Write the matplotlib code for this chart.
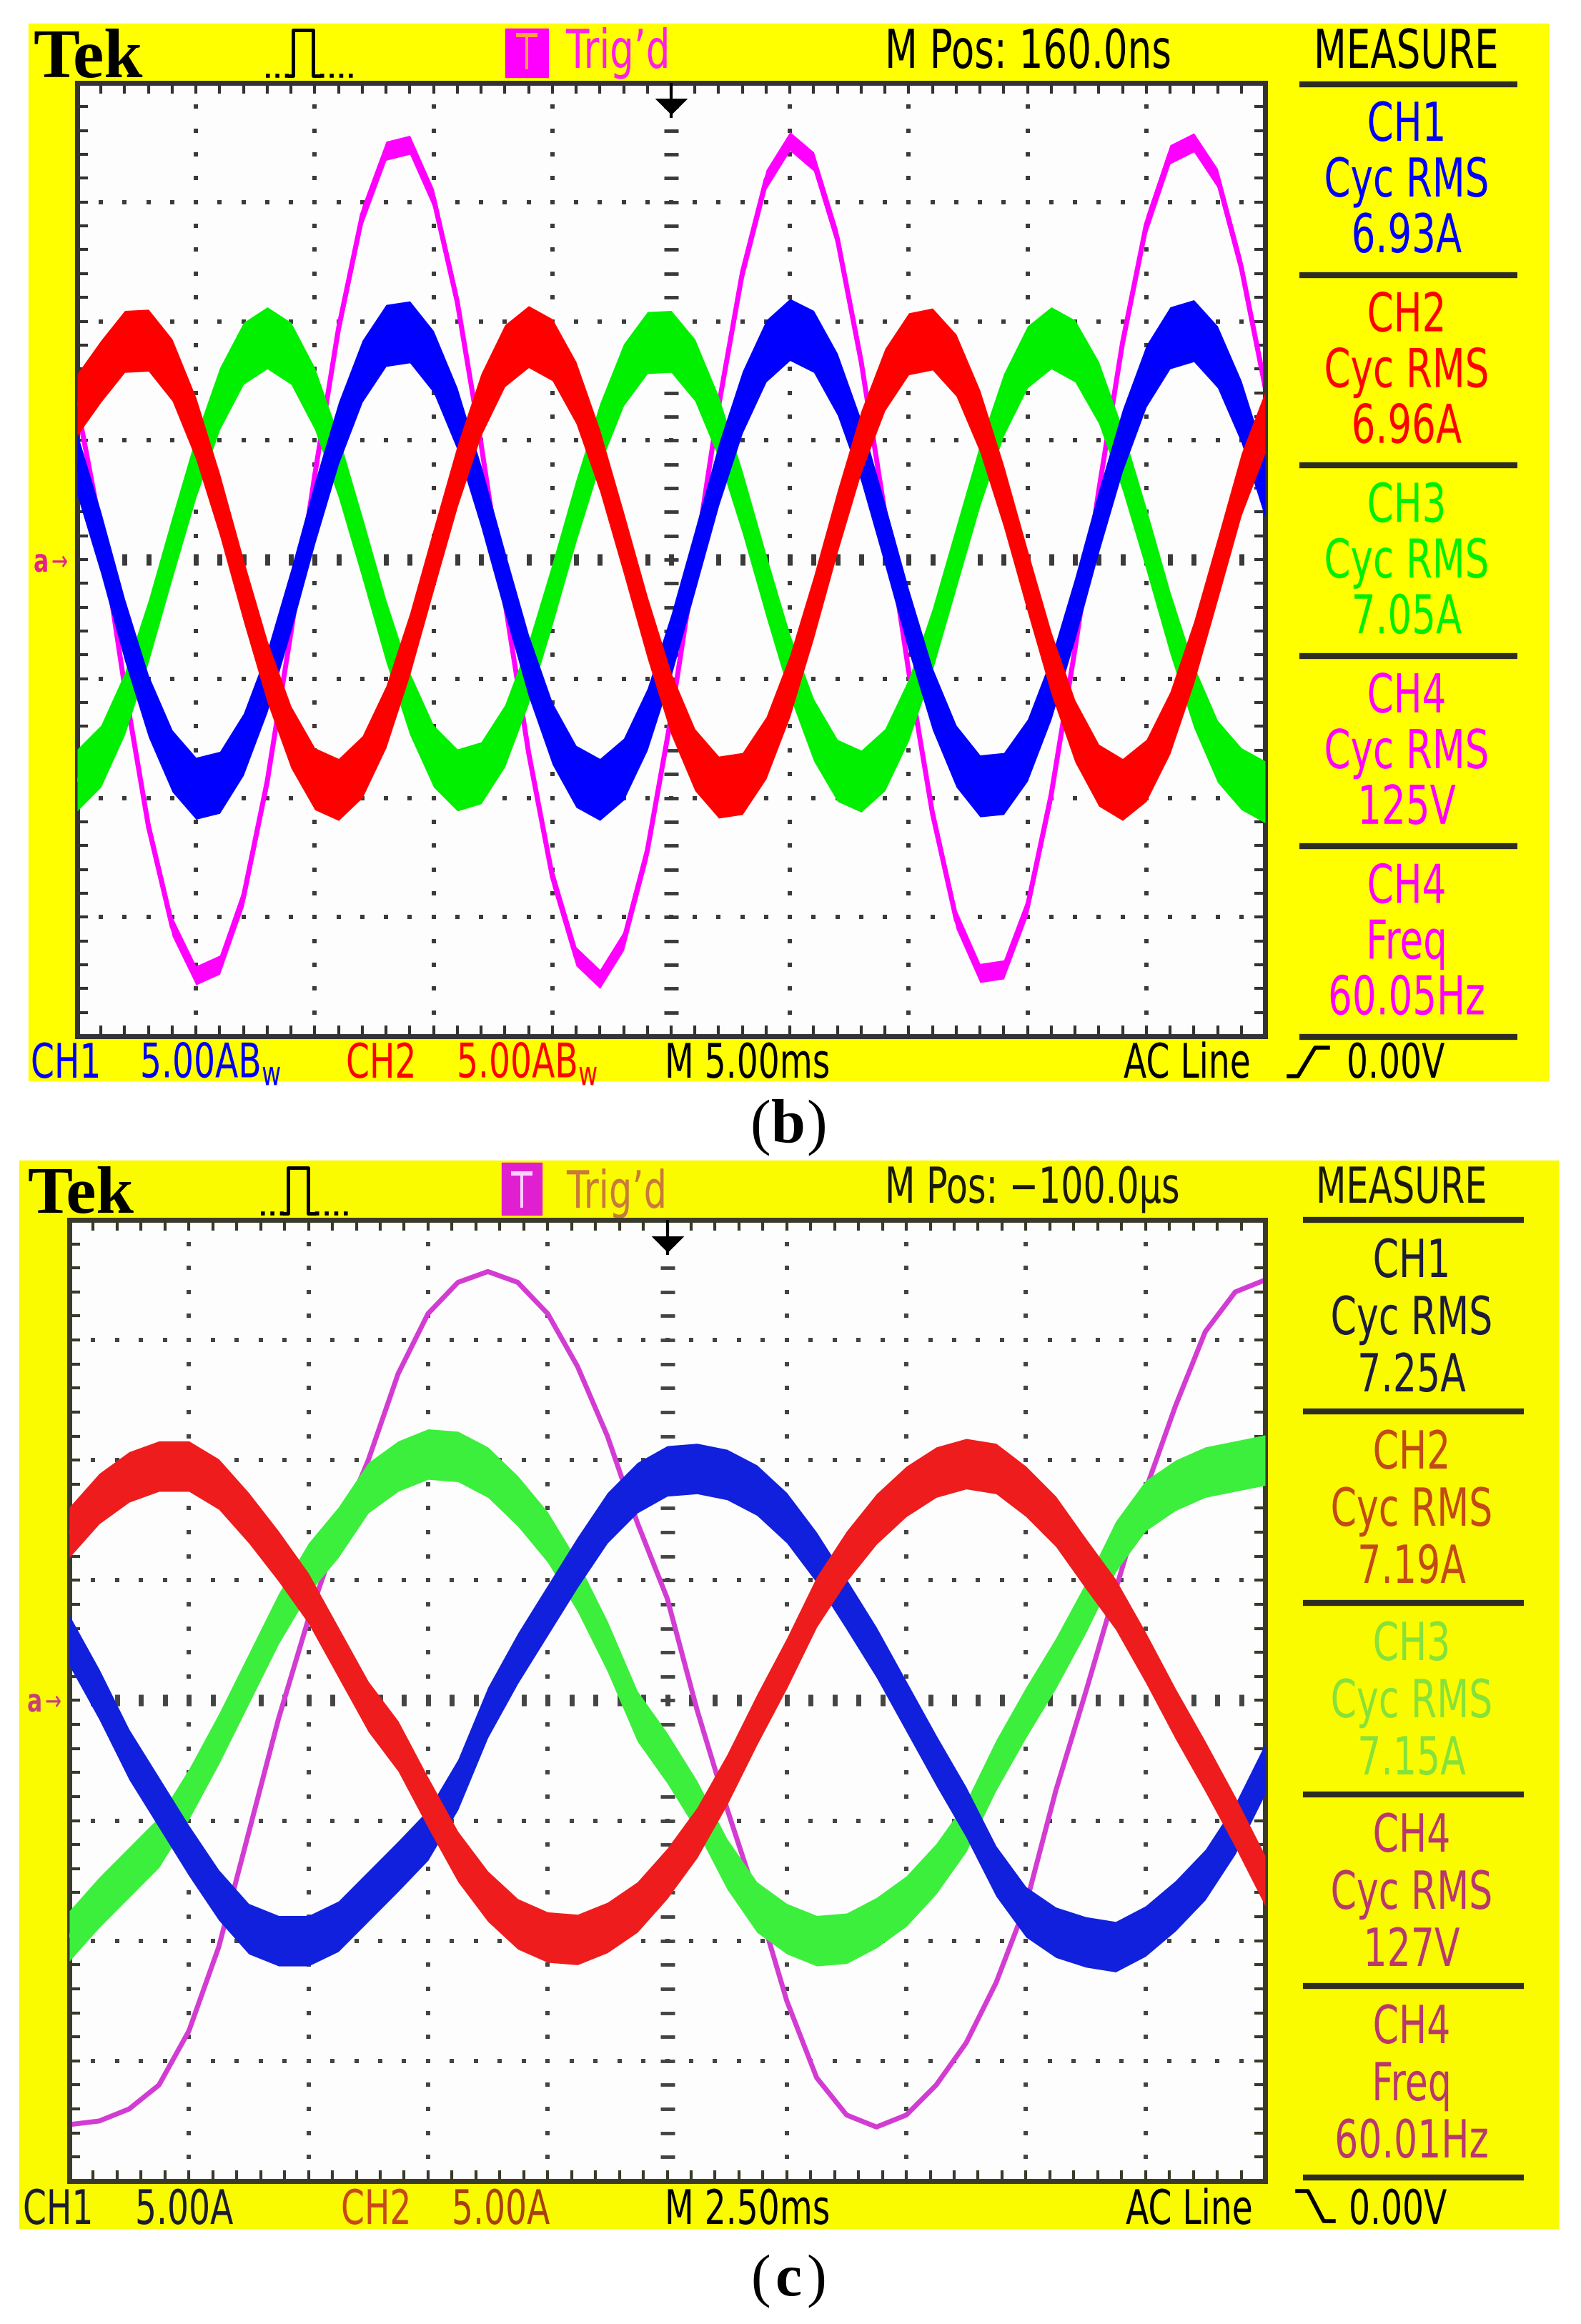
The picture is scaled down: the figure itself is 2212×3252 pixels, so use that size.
import numpy as np
import matplotlib
matplotlib.use("Agg")
import matplotlib.pyplot as plt
from matplotlib.patches import Rectangle
from matplotlib.path import Path
from matplotlib.patheffects import AbstractPathEffect
from matplotlib.transforms import Affine2D

# ---------------- data (in divisions) ----------------
# panel (b): 5.00 ms/div, samples every 0.2 div
B_X = np.linspace(0, 10, 51)
B_CH4 = [1.30, 0.25, -1.07, -2.24, -3.08, -3.49, -3.40, -2.83, -1.86, -0.61, 0.71, 1.94, 2.89,
         3.43, 3.48, 3.03, 2.16, 0.97, -0.35, -1.62, -2.66, -3.33, -3.52, -3.20, -2.44, -1.32,
         -0.02, 1.29, 2.41, 3.19, 3.51, 3.34, 2.69, 1.66, 0.39, -0.94, -2.13, -3.02, -3.47, -3.44,
         -2.91, -1.97, -0.75, 0.58, 1.82, 2.81, 3.40, 3.50, 3.20, 2.45, 1.45]
B_CH1 = [0.80, 0.14, -0.59, -1.23, -1.69, -1.92, -1.87, -1.55, -1.02, -0.34, 0.39, 1.06, 1.58,
         1.88, 1.91, 1.66, 1.18, 0.53, -0.19, -0.89, -1.46, -1.82, -1.93, -1.76, -1.34, -0.72,
         -0.01, 0.71, 1.32, 1.75, 1.93, 1.83, 1.47, 0.91, 0.21, -0.51, -1.17, -1.65, -1.90, -1.88,
         -1.60, -1.08, -0.41, 0.32, 1.00, 1.54, 1.86, 1.92, 1.70, 1.24, 0.61]
B_CH2 = [1.30, 1.58, 1.83, 1.84, 1.59, 1.10, 0.46, -0.26, -0.94, -1.49, -1.84, -1.93, -1.74,
         -1.32, -0.71, 0.00, 0.70, 1.30, 1.71, 1.87, 1.76, 1.40, 0.83, 0.14, -0.57, -1.21, -1.68,
         -1.91, -1.88, -1.58, -1.06, -0.40, 0.32, 0.99, 1.51, 1.81, 1.85, 1.63, 1.16, 0.53, -0.18,
         -0.87, -1.44, -1.81, -1.93, -1.77, -1.37, -0.78, -0.08, 0.63, 1.15]
B_CH3 = [-1.85, -1.65, -1.21, -0.60, 0.10, 0.78, 1.35, 1.73, 1.86, 1.73, 1.35, 0.78, 0.10,
         -0.60, -1.21, -1.65, -1.85, -1.79, -1.48, -0.95, -0.29, 0.41, 1.05, 1.55, 1.82, 1.83,
         1.59, 1.11, 0.48, -0.22, -0.89, -1.43, -1.77, -1.86, -1.68, -1.26, -0.67, 0.02, 0.71,
         1.30, 1.70, 1.86, 1.75, 1.40, 0.84, 0.17, -0.53, -1.15, -1.61, -1.84, -1.95]

# panel (c): 2.50 ms/div, samples every 0.25 div
C_X = np.linspace(0, 10, 41)
C_CH4 = [-3.53, -3.50, -3.40, -3.20, -2.75, -2.05, -1.10, -0.15, 0.68, 1.40, 2.00, 2.72, 3.22,
         3.48, 3.57, 3.48, 3.22, 2.78, 2.20, 1.48, 0.85, -0.08, -0.90, -1.66, -2.50, -3.14, -3.45,
         -3.55, -3.45, -3.20, -2.85, -2.35, -1.70, -0.75, 0.07, 0.92, 1.75, 2.45, 3.07, 3.40, 3.50]
C_CH1 = [0.50, 0.05, -0.45, -0.85, -1.25, -1.62, -1.90, -2.00, -2.00, -1.88, -1.63, -1.38, -1.12,
         -0.70, -0.10, 0.35, 0.75, 1.15, 1.52, 1.77, 1.91, 1.93, 1.88, 1.75, 1.52, 1.19, 0.80,
         0.40, -0.05, -0.50, -0.93, -1.42, -1.76, -1.93, -2.01, -2.05, -1.92, -1.71, -1.45, -1.07,
         -0.57]
C_CH2 = [1.40, 1.68, 1.86, 1.95, 1.95, 1.80, 1.52, 1.20, 0.85, 0.40, -0.05, -0.38, -0.85, -1.30,
         -1.63, -1.86, -1.97, -1.99, -1.89, -1.72, -1.44, -1.10, -0.66, -0.16, 0.31, 0.82, 1.20,
         1.51, 1.74, 1.90, 1.97, 1.93, 1.74, 1.49, 1.14, 0.80, 0.36, -0.11, -0.55, -1.01, -1.50]
C_CH3 = [-1.96, -1.68, -1.43, -1.18, -0.78, -0.32, 0.18, 0.68, 1.10, 1.40, 1.77, 1.95, 2.05,
         2.03, 1.90, 1.66, 1.36, 0.95, 0.45, -0.13, -0.48, -0.88, -1.36, -1.72, -1.90, -2.00,
         -1.98, -1.85, -1.67, -1.40, -1.05, -0.54, -0.10, 0.31, 0.77, 1.28, 1.62, 1.79, 1.90,
         1.95, 2.00]

B_MEASURE = [("CH1", "Cyc RMS", "6.93A"), ("CH2", "Cyc RMS", "6.96A"), ("CH3", "Cyc RMS", "7.05A"),
             ("CH4", "Cyc RMS", "125V"), ("CH4", "Freq", "60.05Hz")]
C_MEASURE = [("CH1", "Cyc RMS", "7.25A"), ("CH2", "Cyc RMS", "7.19A"), ("CH3", "Cyc RMS", "7.15A"),
             ("CH4", "Cyc RMS", "127V"), ("CH4", "Freq", "60.01Hz")]

# ---------------- styling ----------------
W, H = 2212, 3252
fig = plt.figure(figsize=(W / 100, H / 100), dpi=100)
fig.patch.set_facecolor("white")
bg = fig.add_axes([0, 0, 1, 1])
bg.set_xlim(0, W)
bg.set_ylim(H, 0)
bg.axis("off")
renderer = fig.canvas.get_renderer()

OSC = ["DejaVu Sans"]
SERIF = ["Liberation Serif", "DejaVu Serif"]


class Condense(AbstractPathEffect):
    """Squeeze rendered glyphs horizontally around an anchor (oscilloscope font look)."""

    def __init__(self, sx, cx):
        super().__init__()
        self.sx = sx
        self.cx = cx

    def draw_path(self, renderer, gc, tpath, affine, rgbFace=None):
        aff = affine + Affine2D().translate(-self.cx, 0).scale(self.sx, 1).translate(self.cx, 0)
        renderer.draw_path(gc, tpath, aff, rgbFace)


def natural_width(s, size, family, weight="normal"):
    t = bg.text(0, 0, s, fontsize=size, family=family, weight=weight)
    w = t.get_window_extent(renderer).width
    t.remove()
    return w


SX = 401.0 / natural_width("M Pos: 160.0ns", 54, OSC)


def put(x, y, s, color="black", size=54, ha="left", family=None, weight="normal", sx=None):
    fam = family or OSC
    if sx is None:
        sx = SX if family is None else 1.0
    t = bg.text(x, y, s, color=color, fontsize=size, ha=ha, va="baseline",
                family=fam, weight=weight)
    if sx != 1.0:
        t.set_path_effects([Condense(sx, x)])
    return t


def pulse_icon(x0, y0):
    bg.plot([x0, x0 + 32], [y0 + 64, y0 + 64], color="black", lw=4, ls=(0, (1, 1.4)))
    bg.plot([x0 + 33, x0 + 38, x0 + 38, x0 + 66, x0 + 66, x0 + 74],
            [y0 + 64, y0 + 64, y0, y0, y0 + 64, y0 + 64], color="black", lw=3.5)
    bg.plot([x0 + 76, x0 + 122], [y0 + 64, y0 + 64], color="black", lw=4, ls=(0, (1, 1.4)))


TRI = Path([(-1, 0.5), (1, 0.5), (0, -0.5), (-1, 0.5)])


def scope_axes(rect_px, grid_col, spine_col):
    x0, y0, x1, y1 = rect_px
    ax = fig.add_axes([x0 / W, 1 - y1 / H, (x1 - x0) / W, (y1 - y0) / H])
    ax.set_xlim(0, 10)
    ax.set_ylim(-4, 4)
    ax.set_facecolor("#fdfdfd")
    ax.set_xticks([])
    ax.set_yticks([])
    for sp in ax.spines.values():
        sp.set_linewidth(5)
        sp.set_color(spine_col)
    xm = np.round(np.arange(0.2, 10, 0.2), 2)
    ym = np.round(np.arange(-3.8, 4.0, 0.2), 2)
    for yv in [-3, -2, -1, 1, 2, 3]:
        ax.plot(xm, np.full_like(xm, yv), "s", ms=4.2, mew=0, color=grid_col, zorder=1)
    for xv in [1, 2, 3, 4, 6, 7, 8, 9]:
        ax.plot(np.full_like(ym, xv), ym, "s", ms=4.2, mew=0, color=grid_col, zorder=1)
    ax.plot(xm, np.zeros_like(xm), "|", ms=12, mew=5, color=grid_col, zorder=1)
    ax.plot(np.full_like(ym, 5), ym, "_", ms=15, mew=3.5, color=grid_col, zorder=1)
    for yv in [4, -4]:
        ax.plot(xm, np.full_like(xm, yv), "|", ms=22, mew=3, color=spine_col, zorder=1)
    for xv in [0, 10]:
        ax.plot(np.full_like(ym, xv), ym, "_", ms=22, mew=3, color=spine_col, zorder=1)
    ax.plot([5, 5], [4, 3.72], color="black", lw=3, zorder=6)
    ax.plot([5], [3.80], marker=TRI, ms=33, color="black", mew=0, zorder=6)
    return ax


def draw_traces(ax, x, series, colors, hws, lws):
    for z, (y, c, hw, lw) in enumerate(zip(series, colors, hws, lws)):
        y = np.asarray(y, dtype=float)
        if hw > 0:
            ax.fill_between(x, y - hw, y + hw, color=c, lw=0, zorder=2 + z)
        ax.plot(x, y, color=c, lw=lw, solid_joinstyle="round", zorder=2 + z)


# ======================= panel (b) =======================
bg.add_patch(Rectangle((40, 33), 2126, 1479, color="#ffff00", zorder=0))
put(46, 108, "Tek", family=SERIF, weight="bold", size=70)
pulse_icon(372, 42)
bg.add_patch(Rectangle((707, 40), 60, 68, color="#ff00ff", zorder=1))
put(737, 97, "T", color="#ffa040", size=50, ha="center")
put(792, 95, "Trig\u2019d", color="#ff1ee8")
put(1238, 95, "M Pos: 160.0ns")
put(1838, 95, "MEASURE")

b_cols = ["#0000ff", "#ff0000", "#00ee00", "#ff00ff"]
for i, (a, b, c) in enumerate(B_MEASURE):
    top = 118 + 266.6 * i
    col = b_cols[min(i, 3)]
    put(1968, top + 79, a, color=col, ha="center")
    put(1968, top + 157, b, color=col, ha="center")
    put(1968, top + 235, c, color=col, ha="center")
for i in range(6):
    y = 118 + 266.6 * i
    bg.plot([1818, 2123], [y, y], color="#2e2e20", lw=6, solid_capstyle="butt")

BS = 48
put(43, 1508, "CH1", color="#0000ff", size=BS)
put(196, 1508, r"5.00AB$_\mathregular{w}$", color="#0000ff", size=BS)
put(484, 1508, "CH2", color="#ff0000", size=BS)
put(639, 1508, r"5.00AB$_\mathregular{w}$", color="#ff0000", size=BS)
put(930, 1508, "M 5.00ms", size=BS)
put(1572, 1508, "AC Line", size=BS)
bg.plot([1803, 1816, 1840, 1858], [1506, 1506, 1466, 1466], color="black", lw=4)
put(1884, 1508, "0.00V", size=BS)
put(47, 800, "a", color="#e8208c", size=32, weight="bold")
put(72, 798, "\u2192", color="#e8208c", size=28)

put(1078, 1598, "(", family=SERIF, size=62, ha="right")
put(1103, 1598, "b", family=SERIF, size=62, ha="center", weight="bold")
put(1128, 1598, ")", family=SERIF, size=62, ha="left")

axb = scope_axes((108, 116, 1770, 1450), "#3a3a3a", "#333333")
draw_traces(axb, B_X, [B_CH4, B_CH3, B_CH1, B_CH2], ["#ff00ff", "#00f000", "#0000ff", "#ff0000"],
            [0.08, 0.26, 0.26, 0.26], [5, 3, 3, 3])

# ======================= panel (c) =======================
bg.add_patch(Rectangle((27, 1624), 2153, 1494, color="#fbfb00", zorder=0))
put(39, 1697, "Tek", family=SERIF, weight="bold", size=68)
pulse_icon(365, 1634)
bg.add_patch(Rectangle((702, 1627), 56, 73, color="#e020d0", zorder=1))
put(730, 1690, "T", color="#ffd0ff", size=50, ha="center")
put(793, 1690, "Trig\u2019d", color="#c87a3a", size=52)
put(1238, 1683, "M Pos: \u2212100.0\u00b5s", color="#1a1a0a", size=50)
put(1841, 1683, "MEASURE", color="#1a1a0a", size=50)

c_cols = ["#1c1c3c", "#c24a14", "#86e23a", "#b8386e"]
for i, (a, b, c) in enumerate(C_MEASURE):
    top = 1707 + 268 * i
    col = c_cols[min(i, 3)]
    put(1975, top + 80, a, color=col, ha="center", size=53)
    put(1975, top + 160, b, color=col, ha="center", size=53)
    put(1975, top + 240, c, color=col, ha="center", size=53)
for i in range(6):
    y = 1707 + 268 * i
    bg.plot([1823, 2132], [y, y], color="#2e2e20", lw=6, solid_capstyle="butt")

put(32, 3112, "CH1", color="#1c1c30", size=BS)
put(189, 3112, "5.00A", color="#1c1c30", size=BS)
put(477, 3112, "CH2", color="#c8481a", size=BS)
put(632, 3112, "5.00A", color="#a8400c", size=BS)
put(930, 3112, "M 2.50ms", size=BS)
put(1575, 3112, "AC Line", size=BS)
bg.plot([1815, 1830, 1852, 1866], [3066, 3066, 3108, 3108], color="black", lw=4)
put(1887, 3112, "0.00V", size=BS)
put(38, 2395, "a", color="#c8407a", size=32, weight="bold")
put(63, 2393, "\u2192", color="#c8407a", size=28)

put(1078, 3212, "(", family=SERIF, size=60, ha="right")
put(1103, 3212, "c", family=SERIF, size=60, ha="center", weight="bold")
put(1128, 3212, ")", family=SERIF, size=60, ha="left")

axc = scope_axes((97, 1707, 1770, 3052), "#444444", "#3a3a2a")
draw_traces(axc, C_X, [C_CH4, C_CH3, C_CH1, C_CH2], ["#d23cd2", "#3cef3c", "#1020dc", "#ee1c1c"],
            [0.0, 0.21, 0.21, 0.21], [5, 3, 3, 3])

fig.savefig("out.png", dpi=100, facecolor="white")
